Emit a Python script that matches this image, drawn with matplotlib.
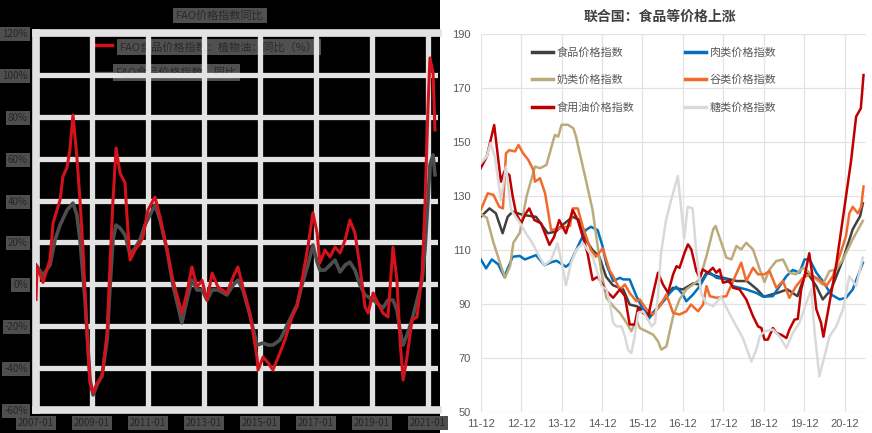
import matplotlib
matplotlib.use("Agg")
import matplotlib.pyplot as plt
from matplotlib.patches import Rectangle

plt.rcParams['font.family'] = ['Noto Sans CJK SC', 'DejaVu Sans']

# ---------------- Left panel data (decimal year, YoY %) ----------------
left_title = "FAO价格指数同比"
left_red_label = "FAO食品价格指数：植物油：同比（%）"
left_gray_label = "FAO食品价格指数：同比"
left_yticks = [120, 100, 80, 60, 40, 20, 0, -20, -40, -60]
left_ytick_labels = ["120%", "100%", "80%", "60%", "40%", "20%", "0%", "-20%", "-40%", "-60%"]
left_xticks = [2007, 2009, 2011, 2013, 2015, 2017, 2019, 2021]
left_xtick_labels = ["2007-01", "2009-01", "2011-01", "2013-01", "2015-01", "2017-01", "2019-01", "2021-01"]

red_t = [2007.00, 2007.04, 2007.25, 2007.50, 2007.61, 2007.86, 2007.96, 2008.11, 2008.21, 2008.32,
         2008.46, 2008.57, 2008.68, 2008.82, 2008.93, 2009.04, 2009.18, 2009.36, 2009.54, 2009.64,
         2009.75, 2009.86, 2010.00, 2010.18, 2010.25, 2010.36, 2010.54, 2010.71, 2010.82, 2011.00,
         2011.25, 2011.43, 2011.68, 2011.89, 2012.21, 2012.39, 2012.57, 2012.75, 2012.93, 2013.11,
         2013.29, 2013.50, 2013.82, 2014.04, 2014.21, 2014.39, 2014.64, 2014.89, 2014.93, 2015.11,
         2015.29, 2015.46, 2015.71, 2015.89, 2016.14, 2016.32, 2016.50, 2016.71, 2016.89, 2017.04,
         2017.14, 2017.32, 2017.50, 2017.68, 2017.86, 2018.04, 2018.21, 2018.39, 2018.57, 2018.75,
         2018.86, 2019.04, 2019.21, 2019.39, 2019.57, 2019.75, 2019.89, 2020.00, 2020.11, 2020.25,
         2020.43, 2020.61, 2020.79, 2020.89, 2021.00, 2021.07, 2021.18, 2021.25]
red_v = [-7.2, 8.6, 0.9, 11.9, 29.3, 40.3, 51.3, 56.0, 64.1, 80.9,
         60.8, 40.3, 16.4, -23.2, -47.1, -51.9, -47.1, -44.2, -23.2, 8.3,
         40.3, 65.1, 53.2, 48.4, 32.2, 11.6, 16.4, 19.7, 22.6, 35.5,
         41.7, 32.2, 16.4, 2.0, -13.7, -4.1, 8.3, -1.3, 1.9, -7.5,
         5.4, -1.3, -4.1, 3.5, 8.3, -1.3, -13.7, -34.7, -40.9, -34.7,
         -37.5, -40.9, -32.8, -26.6, -15.6, -10.8, 2.0, 17.8, 34.1, 24.5,
         10.2, 16.4, 13.1, 17.8, 15.0, 21.2, 30.7, 24.5, 8.3, -10.8,
         -13.7, -4.1, -8.9, -13.7, -15.6, 17.8, 2.0, -26.6, -45.7, -34.7,
         -17.0, -15.6, 5.4, 36.9, 84.7, 108.1, 100.9, 73.7]

gray_t = [2007.00, 2007.25, 2007.50, 2007.68, 2007.86, 2008.11, 2008.32, 2008.46, 2008.57, 2008.75,
          2008.93, 2009.04, 2009.18, 2009.36, 2009.54, 2009.64, 2009.75, 2009.86, 2010.00, 2010.18,
          2010.36, 2010.54, 2010.71, 2010.89, 2011.07, 2011.25, 2011.43, 2011.68, 2011.89, 2012.21,
          2012.39, 2012.57, 2012.75, 2012.93, 2013.11, 2013.29, 2013.50, 2013.82, 2014.04, 2014.21,
          2014.39, 2014.64, 2014.89, 2015.11, 2015.29, 2015.46, 2015.71, 2015.89, 2016.14, 2016.32,
          2016.50, 2016.71, 2016.89, 2017.04, 2017.14, 2017.32, 2017.50, 2017.68, 2017.86, 2018.04,
          2018.21, 2018.39, 2018.57, 2018.75, 2019.04, 2019.39, 2019.57, 2019.75, 2019.89, 2020.00,
          2020.11, 2020.25, 2020.43, 2020.61, 2020.79, 2020.89, 2021.00, 2021.07, 2021.18, 2021.25]
gray_v = [9.2, 4.4, 9.2, 21.2, 28.3, 35.5, 38.8, 33.1, 21.2, -7.5,
          -45.7, -52.8, -48.1, -43.3, -26.6, -2.4, 21.2, 28.3, 26.9, 23.6,
          14.0, 17.4, 21.2, 28.3, 33.1, 37.9, 30.7, 16.4, -0.3, -18.4,
          -7.5, 2.0, -2.7, -2.7, -7.5, -2.7, -2.7, -5.1, -0.3, 2.0,
          -2.7, -14.7, -29.0, -28.0, -29.0, -29.0, -26.6, -21.8, -14.7, -9.9,
          -0.3, 9.2, 18.8, 10.6, 6.8, 6.8, 9.2, 11.6, 5.9, 9.2,
          10.6, 6.8, -0.3, -5.1, -7.5, -11.3, -7.5, -7.5, -12.2, -21.8,
          -29.0, -24.2, -17.0, -7.5, 2.0, 16.4, 40.3, 57.0, 61.8, 52.3]

# ---------------- Right panel data (months since 2011-12, index) ----------------
right_title = "联合国：食品等价格上涨"
right_xticks = [0, 12, 24, 36, 48, 60, 72, 84, 96, 108]
right_xtick_labels = ["11-12", "12-12", "13-12", "14-12", "15-12", "16-12", "17-12", "18-12", "19-12", "20-12"]
right_yticks = [50, 70, 90, 110, 130, 150, 170, 190]

names = ["食品价格指数", "肉类价格指数", "奶类价格指数", "谷类价格指数", "食用油价格指数", "糖类价格指数"]
colors = ["#404040", "#0070C0", "#BBAB7C", "#F26A2B", "#C00000", "#D9D9D9"]

food_m = [0, 2.6, 4.5, 6.5, 8, 9.5, 12.5, 16.4, 19.9, 22.3, 24.5, 27.3, 29.3, 31.2, 33.2, 35.2, 37.2, 39.2,
          42.3, 44.2, 46.2, 48.2, 50.2, 52, 55, 57, 60, 63, 65, 67, 70, 74, 76, 79, 82, 84, 88, 91, 94,
          96.6, 99.6, 101.5, 104, 107.5, 110.4, 112.6, 113.4]
food_v = [122.3, 125.4, 123.6, 116.2, 122.3, 124.2, 123.0, 122.3, 116.2, 116.8, 119.5, 122.3, 121.1, 113.7, 110.0,
          107.5, 100.1, 97.0, 95.4, 89.8, 89.2, 88.0, 85.5, 88.0, 92.3, 96.0, 95.4, 97.6, 97.2, 101.6, 100.3,
          99.1, 98.5, 98.5, 95.4, 92.7, 94.1, 95.4, 92.9, 102.2, 96.6, 91.7, 95.4, 106.5, 117.7, 122.6, 127.3]

meat_m = [0, 1.6, 3.3, 5.2, 7, 9.5, 11.6, 13.1, 16.4, 18.9, 21, 22.5, 25.3, 26.5, 28.3, 31.2, 32.7, 34.7, 36.2,
          37.3, 39.3, 41.3, 42.3, 44.2, 46.2, 48.2, 49.7, 51.2, 53.1, 56.1, 58, 60, 61, 63, 65, 67, 68, 70,
          72.9, 74.9, 78.8, 81.8, 83.8, 86.7, 88.7, 90.7, 92.6, 94.6, 96.1, 97.6, 99.6, 101.5, 104, 106.5,
          108.4, 110.4, 113.4]
meat_v = [106.6, 103.2, 106.5, 104.7, 100.1, 107.5, 107.8, 106.5, 108.1, 104.4, 105.5, 106.0, 103.8, 105.0, 110.0,
          117.4, 118.6, 117.4, 111.2, 104.7, 98.5, 99.7, 99.1, 99.1, 92.9, 88.0, 84.2, 86.7, 89.2, 94.1,
          96.4, 93.5, 91.0, 93.5, 96.6, 101.0, 101.6, 99.7, 99.1, 96.6, 95.4, 94.1, 92.7, 92.9, 96.6, 100.3,
          102.6, 101.6, 106.5, 106.5, 101.6, 98.5, 93.5, 91.7, 92.3, 95.4, 105.3]

dairy_m = [0, 1.8, 3.8, 5.7, 7.2, 8.7, 9.7, 11.6, 13.6, 16.1, 17.6, 19.5, 22, 23, 24, 25.8, 27.5, 28.3, 29.4,
           31.2, 33.2, 35.7, 37.3, 39.3, 41.3, 43.3, 44.7, 46.2, 47.2, 49.2, 51.2, 52.6, 53.6, 55.1, 57.1,
           59, 61, 63, 65, 67, 69, 69.7, 71.4, 72.9, 74.4, 75.9, 77.3, 78.8, 80.8, 82.8, 84.2, 85.7, 87.7,
           89.7, 91.6, 93.6, 95.6, 97.6, 99.6, 101.5, 103.5, 105.5, 107.5, 110.4, 113.4]
dairy_v = [123.3, 122.0, 112.7, 105.3, 99.7, 104.0, 112.7, 116.4, 129.8, 140.9, 140.3, 141.5, 152.6, 152.0,
           156.4, 156.4, 155.1, 152.0, 145.8, 136.0, 124.8, 102.6, 92.3, 89.2, 86.7, 83.0, 79.9, 84.2, 81.1,
           79.9, 78.6, 76.2, 73.1, 74.3, 85.5, 91.7, 95.4, 97.2, 99.1, 107.8, 117.7, 118.9, 112.7, 107.2,
           106.5, 111.5, 110.2, 112.7, 110.2, 102.8, 98.1, 102.8, 105.9, 106.5, 101.6, 101.0, 103.4, 101.6,
           99.1, 97.2, 102.2, 102.8, 106.5, 114.0, 120.8]

cereal_m = [0, 2.1, 3.8, 5.5, 6.6, 7.5, 8.5, 10.2, 11.2, 12.6, 14.1, 15.6, 16.1, 17.6, 19.1, 20.9, 23.3, 26.5,
            27.3, 28.8, 30.3, 32.7, 34.2, 36.2, 38.2, 39.3, 41.3, 42.8, 44.2, 46.2, 47.2, 49.2, 51.2, 53.1,
            55.1, 57.1, 59, 61, 62.4, 64.5, 66, 67, 68, 70, 72.9, 74.9, 77.3, 78.8, 80.8, 82.3, 84.2, 85.7,
            87.7, 89.7, 91.6, 93.6, 95.6, 97.6, 100.5, 102.5, 104.5, 106.5, 108.4, 109.4, 110.4, 111.9,
            112.9, 113.6]
cereal_v = [124.8, 131.0, 130.4, 126.0, 125.4, 145.8, 147.0, 146.5, 148.9, 145.8, 143.4, 139.7, 135.3, 136.6,
            131.0, 117.4, 118.0, 118.9, 125.4, 125.4, 118.6, 110.0, 107.5, 110.6, 102.6, 100.3, 95.4, 97.2,
            94.1, 91.0, 91.7, 88.0, 86.1, 89.2, 93.5, 86.7, 86.1, 87.3, 89.8, 87.3, 89.8, 96.6, 92.9, 92.3,
            92.9, 98.5, 105.3, 98.5, 103.4, 101.0, 101.0, 102.2, 96.0, 98.5, 92.3, 96.6, 99.7, 101.0, 99.1,
            96.6, 100.3, 107.8, 115.2, 123.6, 126.0, 123.6, 126.0, 133.5]

oil_m = [0, 1.8, 4.0, 6.0, 7.0, 8.5, 9.5, 10.5, 12, 13.4, 14.4, 15.9, 17.9, 20.4, 21.8, 23.3, 25.3, 27.3, 28.8,
         30.3, 31.7, 33.2, 34.7, 37.3, 39.3, 41.3, 42.8, 44.2, 45.7, 46.7, 48.2, 49.7, 51.2, 52.6, 54.1,
         55.6, 57.1, 58.1, 59, 60.5, 61.5, 62.5, 64, 65, 65.9, 67.4, 68.9, 69.9, 70.9, 71.9, 73.9, 74.9,
         76.8, 78.8, 80.8, 82.3, 83.3, 84.2, 85.2, 86.7, 87.7, 89.2, 90.7, 91.6, 93.1, 94.1, 95.1, 96.1,
         97.5, 98.6, 99.6, 101, 101.7, 103.5, 105.4, 107.4, 109.9, 111.4, 112.8, 113.6]
oil_v = [140.3, 144.6, 156.3, 135.3, 139.0, 137.8, 129.8, 123.6, 119.9, 123.6, 125.4, 121.1, 119.9, 111.9,
         114.9, 121.1, 116.2, 124.8, 121.1, 114.9, 108.8, 98.9, 100.1, 94.8, 92.3, 95.4, 92.9, 82.4, 82.4,
         88.6, 86.7, 85.5, 94.1, 101.6, 97.2, 94.1, 101.0, 104.0, 103.4, 109.0, 112.1, 110.2, 102.2, 99.7,
         102.8, 101.6, 103.4, 101.6, 102.8, 97.9, 98.5, 96.0, 95.4, 91.7, 85.5, 81.7, 81.1, 76.8, 76.8,
         81.1, 79.3, 78.6, 77.4, 80.5, 84.2, 84.5, 95.4, 100.3, 108.8, 99.1, 88.0, 83.0, 77.9, 90.4, 103.8,
         121.1, 143.0, 159.4, 162.5, 174.8]

sugar_m = [0, 1.8, 2.9, 4.2, 6, 7.5, 9, 12, 13.4, 15.4, 17.4, 18.9, 20.9, 22.8, 24.3, 25.3, 26.8, 28.3, 30.3,
           33.2, 34.4, 35.9, 37.3, 38.3, 39.3, 40.3, 41.8, 42.8, 43.7, 44.7, 45.7, 46.7, 48.2, 49.7, 50.7,
           51.7, 52.6, 53.5, 55, 56.5, 58.5, 60.4, 61.4, 62.9, 63.9, 65.4, 66.9, 69, 71.3, 73.8, 75.9, 77.8,
           80.3, 81.8, 82.8, 84.2, 86.7, 88.7, 90.7, 92.6, 94.6, 96.6, 98.1, 99.1, 100.5, 102, 103.5, 105.5,
           107.5, 109.4, 111.4, 113.4]
sugar_v = [142.1, 144.6, 149.6, 144.6, 128.5, 140.9, 124.8, 119.3, 116.2, 112.5, 107.5, 104.4, 106.3, 112.5,
           103.8, 97.0, 105.1, 110.0, 112.5, 107.5, 102.8, 96.6, 95.4, 90.4, 83.0, 81.7, 81.7, 78.0, 73.1,
           71.8, 78.0, 86.7, 87.3, 84.2, 81.7, 83.0, 92.9, 108.8, 121.1, 128.5, 137.4, 114.3, 126.0, 125.4,
           110.0, 94.0, 90.3, 89.2, 92.7, 86.5, 81.7, 77.4, 68.7, 73.1, 78.0, 79.9, 80.5, 78.0, 73.7, 79.3,
           83.0, 90.4, 95.4, 79.3, 63.2, 70.6, 78.0, 81.7, 88.0, 100.3, 96.6, 107.2]

series_m = [food_m, meat_m, dairy_m, cereal_m, oil_m, sugar_m]
series_v = [food_v, meat_v, dairy_v, cereal_v, oil_v, sugar_v]

# ---------------- Figure ----------------
W, H = 872, 433
fig = plt.figure(figsize=(W / 100, H / 100), dpi=100)
fig.patch.set_facecolor("white")
fig.patches.append(Rectangle((0, 0), 440 / W, 1, transform=fig.transFigure,
                             facecolor="black", edgecolor="none", zorder=-10))

# ----- Left panel -----
axL = fig.add_axes([36 / W, (H - 410) / H, (438 - 36) / W, (410 - 33) / H])
axL.set_facecolor("black")
axL.set_xlim(2007.0, 2007.0 + (438 - 36) / 28.0)
axL.set_ylim(-60, 120)
grid_c = "#e2e2e2"
for yv in left_yticks:
    axL.axhline(yv, color=grid_c, lw=3.8, zorder=1.5)
for xv in left_xticks:
    axL.axvline(xv, color=grid_c, lw=3.8, zorder=1.5)
for s in ["top", "bottom", "left"]:
    axL.spines[s].set_color(grid_c)
    axL.spines[s].set_linewidth(5.5)
axL.spines["right"].set_visible(False)
axL.plot(gray_t, gray_v, color="#4d4d4d", lw=2.6, zorder=3)
axL.plot(red_t, red_v, color="#d3121b", lw=2.2, zorder=4)
axL.set_yticks(left_yticks)
axL.set_yticklabels(left_ytick_labels)
axL.set_xticks(left_xticks)
axL.set_xticklabels(left_xtick_labels)
axL.tick_params(length=0, labelsize=7, labelcolor="#262626")
axL.tick_params(axis="y", pad=6)
axL.tick_params(axis="x", pad=6)
for lab in axL.get_yticklabels() + axL.get_xticklabels():
    lab.set_bbox(dict(facecolor="#4e4e4e", edgecolor="none", pad=1.5))

box = dict(facecolor="#505050", edgecolor="none", pad=2)
fig.text(220 / W, 1 - 15.5 / H, left_title, ha="center", va="center", fontsize=8,
         color="#2a2a2a", bbox=box)
axL.plot([0.142, 0.19], [0.968, 0.968], transform=axL.transAxes, color="#d3121b", lw=2.5, zorder=1)
axL.text(0.209, 0.962, left_red_label, transform=axL.transAxes, ha="left", va="center",
         fontsize=8, color="#2a2a2a", bbox=box, zorder=1)
axL.plot([0.142, 0.19], [0.893, 0.893], transform=axL.transAxes, color="#4d4d4d", lw=2.5, zorder=1)
axL.text(0.199, 0.895, left_gray_label, transform=axL.transAxes, ha="left", va="center",
         fontsize=8, color="#2a2a2a", bbox=box, zorder=1)

# ----- Right panel -----
axR = fig.add_axes([480.7 / W, (H - 412) / H, (866 - 480.7) / W, (412 - 34) / H])
axR.set_xlim(0, (866 - 480.7) / 3.37)
axR.set_ylim(50, 190)
for s in axR.spines.values():
    s.set_visible(False)
axR.set_yticks(right_yticks)
axR.set_xticks(right_xticks)
axR.set_xticklabels(right_xtick_labels)
axR.grid(True, color="#e3e3e3", lw=0.9)
axR.set_axisbelow(True)
axR.tick_params(length=0, labelsize=8, labelcolor="#595959")
axR.tick_params(axis="y", pad=7)
axR.tick_params(axis="x", pad=5)
for lab in axR.get_xticklabels() + axR.get_yticklabels():
    lab.set_family(["Liberation Sans", "DejaVu Sans"])

handles = []
for m, v, c, n in zip(series_m, series_v, colors, names):
    h, = axR.plot(m, v, color=c, lw=1.8, label=n, solid_joinstyle="round")
    handles.append(h)

order = [0, 2, 4, 1, 3, 5]
leg = axR.legend([handles[i] for i in order], [names[i] for i in order], ncol=2,
                 loc="upper left", bbox_to_anchor=((532 - 480.7) / 385.3, (412 - 47) / 378),
                 frameon=False, fontsize=8, handlelength=1.9, handletextpad=0.35,
                 columnspacing=4.5, labelspacing=1.55, borderpad=0, borderaxespad=0)
for t in leg.get_texts():
    t.set_color("#595959")
for lh in leg.get_lines():
    lh.set_linewidth(2.5)

fig.text(660 / W, 1 - 17 / H, right_title, ha="center", va="center", fontsize=10,
         color="#404040", fontweight="bold")

fig.savefig("out.png", dpi=100)
